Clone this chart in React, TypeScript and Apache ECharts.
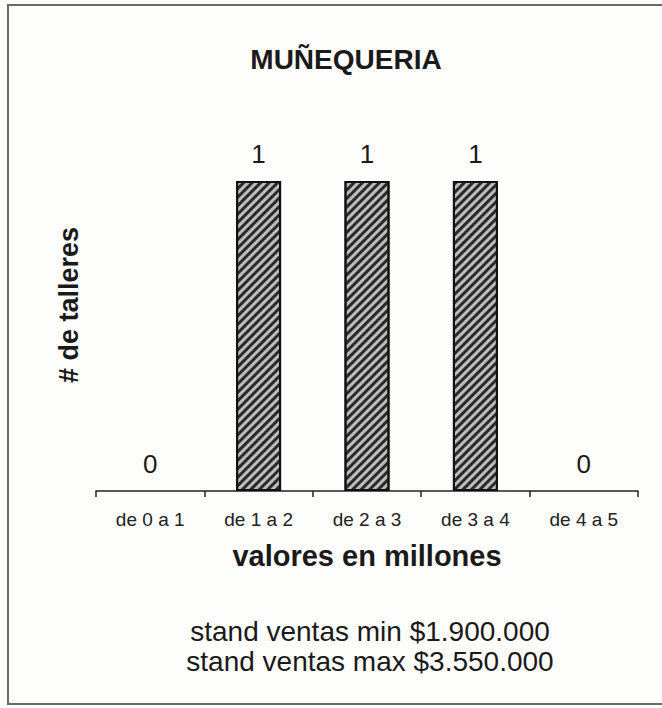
import React, { useEffect, useRef } from "react";
import * as echarts from "echarts";

const categories = ["de 0 a 1", "de 1 a 2", "de 2 a 3", "de 3 a 4", "de 4 a 5"];
const talleres = [0, 1, 1, 1, 0];
const titleText = "MUÑEQUERIA";
const xName = "valores en millones";
const yName = "# de talleres";
const notes = ["stand ventas min $1.900.000", "stand ventas max $3.550.000"];

const FONT = "'Liberation Sans', Arial, Helvetica, sans-serif";

export default function App() {
  const ref = useRef<HTMLDivElement>(null);

  useEffect(() => {
    if (!ref.current) return;
    const chart = echarts.init(ref.current, undefined, { renderer: "svg" });

    // empty classes get no outline along the baseline
    const barData = talleres.map((v) =>
      v === 0 ? { value: v, itemStyle: { borderWidth: 0 } } : { value: v }
    );

    chart.setOption({
      animation: false,
      backgroundColor: "#fdfdfb",
      textStyle: { fontFamily: FONT },
      title: {
        text: titleText,
        left: 341,
        top: 40,
        textAlign: "center",
        textStyle: { fontSize: 28, fontWeight: "bold", color: "#1a1a1a", fontFamily: FONT },
      },
      grid: { left: 96, right: 24, top: 181, bottom: 217 },
      xAxis: {
        type: "category",
        data: categories,
        name: xName,
        nameLocation: "middle",
        nameGap: 50,
        nameTextStyle: { fontSize: 29, fontWeight: "bold", color: "#1a1a1a", fontFamily: FONT },
        axisLine: { lineStyle: { color: "#222", width: 1.5 } },
        axisTick: { show: true, alignWithLabel: false, length: 6, lineStyle: { color: "#222", width: 1.5 } },
        axisLabel: { fontSize: 19, color: "#222", margin: 19, fontFamily: FONT, interval: 0 },
      },
      yAxis: {
        type: "value",
        min: 0,
        max: 1,
        axisLine: { show: false },
        axisTick: { show: false },
        axisLabel: { show: false },
        splitLine: { show: false },
      },
      series: [
        {
          type: "bar",
          data: barData,
          barWidth: 45,
          itemStyle: {
            color: "#bdbdbd",
            borderColor: "#111",
            borderWidth: 2,
            decal: {
              symbol: "rect",
              symbolSize: 1,
              dashArrayX: [1, 0],
              dashArrayY: [2.4, 2.2],
              rotation: -Math.PI / 4,
              color: "#2a2a2a",
            },
          },
          label: {
            show: true,
            position: "top",
            distance: 14,
            fontSize: 26,
            color: "#1a1a1a",
            fontFamily: FONT,
          },
        },
      ],
      graphic: [
        {
          type: "rect",
          shape: { x: 8, y: 5, width: 670, height: 699 },
          style: { fill: "none", stroke: "#6a6a6a", lineWidth: 2 },
          silent: true,
        },
        {
          type: "text",
          x: 69,
          y: 305,
          rotation: Math.PI / 2,
          style: {
            text: yName,
            fontSize: 27,
            fontWeight: "bold",
            fontFamily: FONT,
            fill: "#1a1a1a",
            align: "center",
            verticalAlign: "middle",
          },
        },
        {
          type: "text",
          x: 370,
          y: 631,
          style: {
            text: notes[0],
            fontSize: 28,
            fontFamily: FONT,
            fill: "#1a1a1a",
            align: "center",
            verticalAlign: "middle",
          },
        },
        {
          type: "text",
          x: 370,
          y: 661,
          style: {
            text: notes[1],
            fontSize: 28,
            fontFamily: FONT,
            fill: "#1a1a1a",
            align: "center",
            verticalAlign: "middle",
          },
        },
      ],
    });
    return () => chart.dispose();
  }, []);

  return (
    <div
      ref={ref}
      style={{ position: "fixed", left: 0, top: 0, width: 662, height: 708 }}
    />
  );
}
